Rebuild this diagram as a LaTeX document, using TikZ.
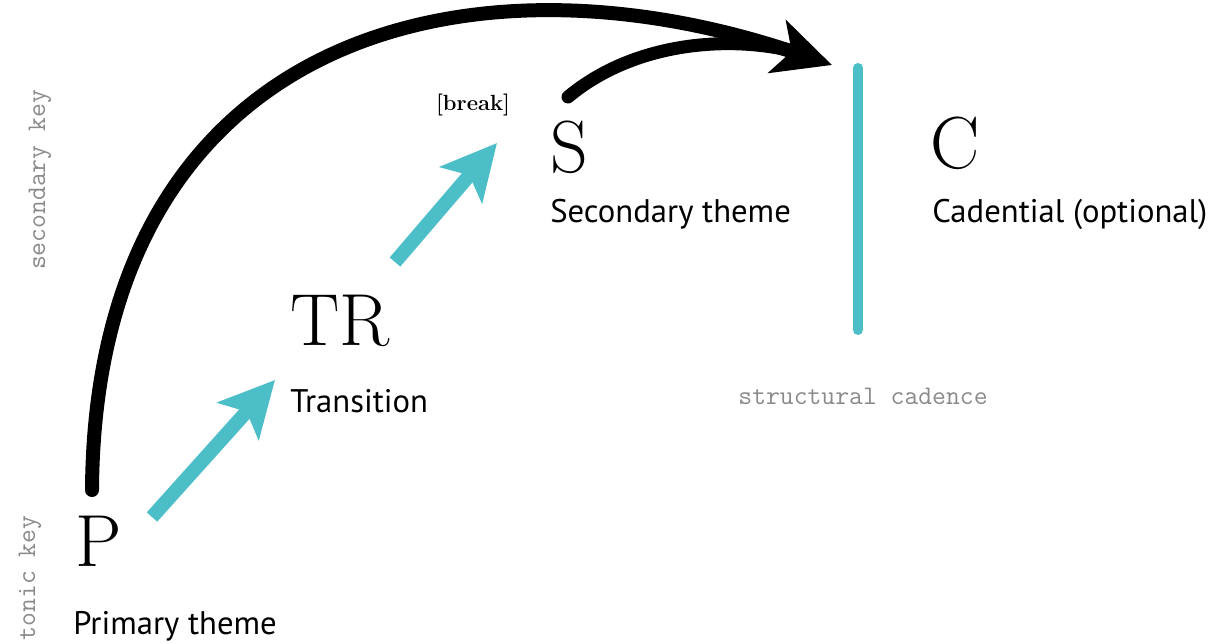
\documentclass[tikz,border=0pt]{standalone}
\usepackage{fontspec}
\newfontfamily\labelfont{PT Sans}
\usepackage{tikz}
\usetikzlibrary{arrows.meta, positioning}
\definecolor{sonatateal}{HTML}{4BBEC8}
\definecolor{keygray}{HTML}{8A8A8A}
\tikzset{
    zone/.style={inner sep=0pt, anchor=base west, font=\fontsize{42}{42}\selectfont},% big section letters
    caption/.style={inner sep=0pt, anchor=base west, font=\labelfont\fontsize{18.6}{18.6}\selectfont},
    keylabel/.style={inner sep=0pt, text=keygray, font=\ttfamily\fontsize{15.3}{15.3}\selectfont},
    progress/.style={line width=0.28cm, sonatateal, -{Stealth[length=1.1cm, width=1.1cm, inset=0.25cm]}},
    modulation/.style={line width=0.28cm, line cap=round, -{Stealth[length=1.15cm, width=1.1cm, inset=0.3cm]}},
}

\begin{document}
\begin{tikzpicture}[x=0.02cm, y=-0.02cm]
            \useasboundingbox (0,0) rectangle (1211,643);
            % Section letters and their names
            \node[zone] (P) at (75,566) {P};
            \node[caption] (Pname) at (73,634) {Primary theme};
            \node[zone] (TR) at (290,345) {TR};
            \node[caption] (TRname) at (290,412) {Transition};
            \node[zone] (S) at (550,172) {S};
            \node[caption] (Sname) at (550,222) {Secondary theme};
            \node[zone] (C) at (930,168) {C};
            \node[caption] (Cname) at (932,222) {Cadential (optional)};
            \node[inner sep=0pt, font=\fontsize{12.5}{12.5}\selectfont\bfseries] (brk) at (473,105) {[break]};
            % Keys on the left, cadence under the bar
            \node[keylabel, rotate=90] (sec) at (40,180) {secondary key};
            \node[keylabel, rotate=90] (ton) at (30,578) {tonic key};
            \node[keylabel] (cad) at (863,396) {structural cadence};
            % Rising arrows
            \coordinate (a1) at (152,517);
            \coordinate (a2) at (275,380);
            \coordinate (b1) at (395,262);
            \coordinate (b2) at (497,143);
            \draw[progress] (a1) -- (a2);
            \draw[progress] (b1) -- (b2);
            % Cadence bar
            \coordinate (bartop) at (858,68);
            \coordinate (barbot) at (858,330);
            \draw[line width=0.2cm, line cap=round, sonatateal] (bartop) -- (barbot);
            % Big arc from the tonic to the cadence
            \coordinate (arcstart) at (92,490);
            \coordinate (arcend) at (832,65);
            \draw[modulation] (arcstart) .. controls (95,40) and (460,-60) .. (arcend);
            \coordinate (sstart) at (568,97);
            \coordinate (send) at (788,50);
            \draw[line width=0.26cm, line cap=round] (sstart) .. controls (630,45) and (720,35) .. (send);
        \end{tikzpicture}
\end{document}
